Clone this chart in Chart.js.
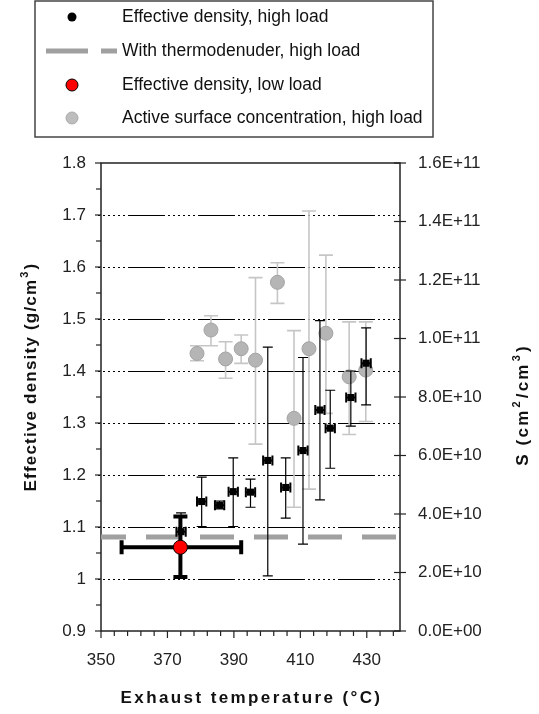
<!DOCTYPE html>
<html><head><meta charset="utf-8">
<script src="https://cdn.jsdelivr.net/npm/chart.js@4.4.1/dist/chart.umd.min.js"></script>
<style>html,body{margin:0;padding:0;background:#fff;}#wrap{width:539px;height:714px;position:relative;}</style>
</head><body><div id="wrap"><canvas id="c" width="539" height="714"></canvas></div>
<script>
// ---- data ----
const highLoadTemp      = [374.1, 380.3, 385.7, 389.8, 395.0, 400.2, 405.6, 410.8, 415.9, 419.0, 425.2, 429.8];
const highLoadTempErr   = [1.4, 1.4, 1.4, 1.4, 1.4, 1.4, 1.4, 1.4, 1.4, 1.4, 1.4, 1.4];
const highLoadDensity   = [1.091, 1.149, 1.142, 1.168, 1.167, 1.228, 1.176, 1.247, 1.325, 1.290, 1.349, 1.415];
const highLoadDensityHi = [1.127, 1.196, 1.150, 1.233, 1.192, 1.446, 1.233, 1.426, 1.497, 1.363, 1.400, 1.483];
const highLoadDensityLo = [1.060, 1.101, 1.135, 1.101, 1.138, 1.006, 1.117, 1.067, 1.152, 1.213, 1.294, 1.335];

const lowLoadTemp      = [373.9];
const lowLoadTempLo    = [356.2];
const lowLoadTempHi    = [392.2];
const lowLoadDensity   = [1.061];
const lowLoadDensityHi = [1.120];
const lowLoadDensityLo = [1.004];

const thermoTemp    = [350, 440];
const thermoDensity = [1.081, 1.081];

const surfTemp = [378.9, 383.1, 387.5, 392.2, 396.5, 403.1, 408.1, 412.6, 417.7, 424.7, 429.7];
const surfS    = [9.49e10, 1.029e11, 9.30e10, 9.65e10, 9.26e10, 1.192e11, 7.27e10, 9.65e10, 1.018e11, 8.69e10, 8.92e10];
const surfSHi  = [9.75e10, 1.078e11, 9.89e10, 1.012e11, 1.208e11, 1.259e11, 1.027e11, 1.436e11, 1.285e11, 1.057e11, 1.057e11];
const surfSLo  = [9.24e10, 9.75e10, 8.64e10, 9.15e10, 6.39e10, 1.120e11, 4.23e10, 4.85e10, 7.44e10, 6.72e10, 7.16e10];

const tempTickLabels    = [350, 370, 390, 410, 430];
const densityTickLabels = [0.9, 1.0, 1.1, 1.2, 1.3, 1.4, 1.5, 1.6, 1.7, 1.8];
const sTickLabels       = [0, 2e10, 4e10, 6e10, 8e10, 1e11, 1.2e11, 1.4e11, 1.6e11];

const legendLabels = ['Effective density, high load', 'With thermodenuder, high load',
                      'Effective density, low load', 'Active surface concentration, high load'];
const xTitle = 'Exhaust temperature (°C)';
// titles with superscripts: [text, isSuperscript]
const yTitleParts  = [['Effective density (g/cm', false], ['3', true], [')', false]];
const y2TitleParts = [['S (cm', false], ['2', true], ['/cm', false], ['3', true], [')', false]];

// ---- helpers ----
const FONT = '"Liberation Sans", Arial, sans-serif';
const zip = (xs, ys) => xs.map((x, i) => ({x: x, y: ys[i]}));
function sciLabel(v) {
  if (v === 0) return '0.0E+00';
  const e = Math.floor(Math.log10(v) + 1e-9);
  const m = v / Math.pow(10, e);
  return m.toFixed(1) + 'E+' + String(e).padStart(2, '0');
}
function drawParts(ctx, parts, size, sup, spacing) {
  let w = 0;
  const meas = parts.map(([t, s]) => {
    ctx.font = 'bold ' + (s ? sup : size) + 'px ' + FONT;
    ctx.letterSpacing = spacing + 'px';
    const m = ctx.measureText(t).width + (s ? 2 : 0);
    w += m; return m;
  });
  let x = -w / 2;
  parts.forEach(([t, s], i) => {
    ctx.font = 'bold ' + (s ? sup : size) + 'px ' + FONT;
    ctx.letterSpacing = spacing + 'px';
    ctx.fillText(t, x + (s ? 1 : 0), s ? -6 : 0);
    x += meas[i];
  });
  ctx.letterSpacing = '0px';
}

const errorBarPlugin = {
  id: 'errbars',
  beforeDatasetDraw(chart, args) {
    const ds = chart.data.datasets[args.index];
    const e = ds.err;
    if (!e) return;
    const ctx = chart.ctx, xs = chart.scales.x, ys = chart.scales[ds.yAxisID];
    ctx.save();
    ctx.strokeStyle = e.color; ctx.lineWidth = e.width; ctx.lineCap = 'butt';
    ds.data.forEach((p, i) => {
      const px = xs.getPixelForValue(p.x), py = ys.getPixelForValue(p.y);
      if (e.yLo) {
        const y1 = ys.getPixelForValue(e.yLo[i]), y2 = ys.getPixelForValue(e.yHi[i]);
        ctx.beginPath();
        ctx.moveTo(px, y1); ctx.lineTo(px, y2);
        ctx.moveTo(px - e.capY, y1); ctx.lineTo(px + e.capY, y1);
        ctx.moveTo(px - e.capY, y2); ctx.lineTo(px + e.capY, y2);
        ctx.stroke();
      }
      if (e.xLo) {
        const x1 = xs.getPixelForValue(e.xLo[i]), x2 = xs.getPixelForValue(e.xHi[i]);
        ctx.save(); ctx.lineWidth = e.xWidth || e.width;
        ctx.beginPath();
        ctx.moveTo(x1, py); ctx.lineTo(x2, py);
        ctx.moveTo(x1, py - e.capX); ctx.lineTo(x1, py + e.capX);
        ctx.moveTo(x2, py - e.capX); ctx.lineTo(x2, py + e.capX);
        ctx.stroke();
        ctx.restore();
      }
    });
    ctx.restore();
  }
};

const framePlugin = {
  id: 'frame',
  beforeDatasetsDraw(chart) {
    const ctx = chart.ctx, a = chart.chartArea;
    const xs = chart.scales.x, ys = chart.scales.y, ys2 = chart.scales.y2;
    ctx.save();
    ctx.strokeStyle = '#000'; ctx.lineWidth = 1;
    ctx.setLineDash([37, 3, 2, 3, 2, 3, 2, 3, 2, 3, 2, 3, 2, 3]);
    ctx.lineDashOffset = 37;
    densityTickLabels.forEach(v => {
      if (v <= ys.min + 1e-9 || v >= ys.max - 1e-9) return;
      const y = Math.round(ys.getPixelForValue(v)) + 0.5;
      ctx.beginPath(); ctx.moveTo(a.left - 6, y); ctx.lineTo(a.right, y); ctx.stroke();
    });
    ctx.setLineDash([]);
    ctx.strokeStyle = '#222'; ctx.lineWidth = 1.5;
    ctx.strokeRect(a.left, a.top, a.right - a.left, a.bottom - a.top);
    ctx.lineWidth = 1.2;
    for (let k = 0; k <= 18; k++) {
      const v = 0.9 + k * 0.05;
      const y = ys.getPixelForValue(v);
      const len = (k % 2 === 0) ? 6 : 5;
      ctx.beginPath(); ctx.moveTo(a.left - len, y); ctx.lineTo(a.left, y); ctx.stroke();
    }
    sTickLabels.forEach(v => {
      const y = ys2.getPixelForValue(v);
      ctx.beginPath(); ctx.moveTo(a.right - 6, y); ctx.lineTo(a.right + 6, y); ctx.stroke();
    });
    for (let t = 350; t <= 440; t += 4) {
      const x = xs.getPixelForValue(t);
      const major = (t - 350) % 20 === 0;
      ctx.beginPath(); ctx.moveTo(x, a.bottom); ctx.lineTo(x, a.bottom + (major ? 7 : 5)); ctx.stroke();
    }
    ctx.restore();
  },
  afterDraw(chart) {
    const ctx = chart.ctx, a = chart.chartArea;
    ctx.save();
    ctx.fillStyle = '#111';
    ctx.textAlign = 'left'; ctx.textBaseline = 'middle';
    ctx.save(); ctx.translate((a.left + a.right) / 2 + 1, 698);
    drawParts(ctx, [[xTitle, false]], 17, 11, 2.4); ctx.restore();
    ctx.save(); ctx.translate(31, 377); ctx.rotate(-Math.PI / 2);
    drawParts(ctx, yTitleParts, 17, 11, 1.2); ctx.restore();
    ctx.save(); ctx.translate(523, 405); ctx.rotate(-Math.PI / 2);
    drawParts(ctx, y2TitleParts, 17, 11, 2.2); ctx.restore();
    // legend
    const L = {x: 35, y: 1, w: 398, h: 136};
    ctx.fillStyle = '#fff'; ctx.fillRect(L.x, L.y, L.w, L.h);
    ctx.strokeStyle = '#444'; ctx.lineWidth = 1.5;
    ctx.strokeRect(L.x, L.y, L.w, L.h);
    const rows = [17, 51, 85, 118];
    const mx = 72, tx = 122;
    ctx.font = '17.5px ' + FONT; ctx.textAlign = 'left'; ctx.fillStyle = '#111';
    legendLabels.forEach((t, i) => ctx.fillText(t, tx, rows[i]));
    ctx.beginPath(); ctx.arc(mx, rows[0], 4.5, 0, Math.PI * 2); ctx.fillStyle = '#000'; ctx.fill();
    ctx.strokeStyle = '#a0a0a0'; ctx.lineWidth = 5;
    ctx.beginPath(); ctx.moveTo(46, rows[1]); ctx.lineTo(88, rows[1]); ctx.moveTo(101, rows[1]); ctx.lineTo(117, rows[1]); ctx.stroke();
    ctx.beginPath(); ctx.arc(mx, rows[2], 6, 0, Math.PI * 2); ctx.fillStyle = '#ff0000'; ctx.fill();
    ctx.strokeStyle = '#000'; ctx.lineWidth = 1; ctx.stroke();
    ctx.beginPath(); ctx.arc(mx, rows[3], 6, 0, Math.PI * 2); ctx.fillStyle = '#bdbdbd'; ctx.fill();
    ctx.strokeStyle = '#aaa'; ctx.lineWidth = 1; ctx.stroke();
    ctx.restore();
  }
};

const datasets = [
  {
    label: legendLabels[3], type: 'scatter', yAxisID: 'y2', order: 2,
    data: zip(surfTemp, surfS),
    pointRadius: 7, pointBackgroundColor: '#b5b5b5', pointBorderColor: '#a3a3a3', pointBorderWidth: 1,
    err: {yLo: surfSLo, yHi: surfSHi, color: '#c6c6c6', width: 1.6, capY: 7}
  },
  {
    label: legendLabels[0], type: 'scatter', yAxisID: 'y', order: 1,
    data: zip(highLoadTemp, highLoadDensity),
    pointStyle: 'rect', pointRadius: 5, pointBackgroundColor: '#000', pointBorderColor: '#000', pointBorderWidth: 0,
    err: {yLo: highLoadDensityLo, yHi: highLoadDensityHi,
          xLo: highLoadTemp.map((t, i) => t - highLoadTempErr[i]), xHi: highLoadTemp.map((t, i) => t + highLoadTempErr[i]),
          color: '#000', width: 1.2, capY: 5, capX: 5, xWidth: 2}
  },
  {
    label: legendLabels[2], type: 'scatter', yAxisID: 'y', order: 0,
    data: zip(lowLoadTemp, lowLoadDensity),
    pointRadius: 7, pointBackgroundColor: '#ff0000', pointBorderColor: '#000', pointBorderWidth: 1,
    err: {yLo: lowLoadDensityLo, yHi: lowLoadDensityHi, xLo: lowLoadTempLo, xHi: lowLoadTempHi,
          color: '#000', width: 4, capY: 7, capX: 7}
  },
  {
    label: legendLabels[1], type: 'line', yAxisID: 'y', order: 3,
    data: zip(thermoTemp, thermoDensity),
    borderColor: '#a0a0a0', borderWidth: 5, borderDash: [34, 20], borderDashOffset: 9,
    pointRadius: 0, fill: false, clip: 10
  }
];

new Chart(document.getElementById('c'), {
  type: 'scatter',
  data: {datasets: datasets},
  plugins: [errorBarPlugin, framePlugin],
  options: {
    responsive: false, animation: false, devicePixelRatio: 1,
    layout: {padding: {top: 163, left: 0, right: 0, bottom: 0}},
    plugins: {legend: {display: false}, tooltip: {enabled: false}},
    scales: {
      x: {
        type: 'linear', min: 350, max: 440, position: 'bottom',
        grid: {display: false, drawTicks: false}, border: {display: false},
        afterBuildTicks: s => { s.ticks = tempTickLabels.map(v => ({value: v})); },
        afterFit: s => { s.height = 83; },
        ticks: {padding: 19, color: '#222', font: {family: FONT, size: 17}, maxRotation: 0, autoSkip: false}
      },
      y: {
        type: 'linear', min: 0.9, max: 1.8, position: 'left',
        grid: {display: false, drawTicks: false}, border: {display: false},
        afterBuildTicks: s => { s.ticks = densityTickLabels.map(v => ({value: v})); },
        afterFit: s => { s.width = 101; },
        ticks: {padding: 15, color: '#222', font: {family: FONT, size: 17}, autoSkip: false,
                callback: v => String(Number(v.toFixed(2)))}
      },
      y2: {
        type: 'linear', min: 0, max: 1.6e11, position: 'right',
        grid: {display: false, drawTicks: false}, border: {display: false},
        afterBuildTicks: s => { s.ticks = sTickLabels.map(v => ({value: v})); },
        afterFit: s => { s.width = 139; },
        ticks: {padding: 18, color: '#222', font: {family: FONT, size: 17}, autoSkip: false,
                callback: v => sciLabel(v)}
      }
    }
  }
});
</script></body></html>
